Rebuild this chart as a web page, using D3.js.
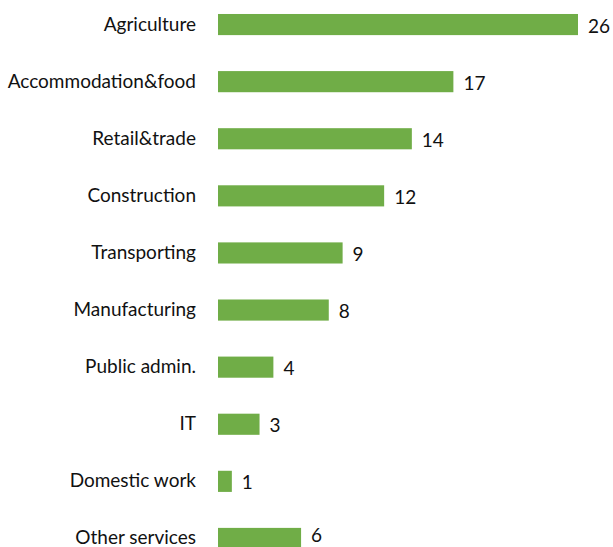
<!DOCTYPE html>
<html>
<head>
<meta charset="utf-8">
<script src="https://cdn.jsdelivr.net/npm/d3@7"></script>
<style>
  html, body { margin: 0; padding: 0; background: #ffffff; }
  svg text { font-family: "Lato", "Open Sans", sans-serif; fill: #111111; }
</style>
</head>
<body>
<svg id="chart" width="613" height="547"></svg>
<script>
// Employment share by sector
const sectors = [
  "Agriculture", "Accommodation&food", "Retail&trade", "Construction",
  "Transporting", "Manufacturing", "Public admin.", "IT",
  "Domestic work", "Other services"
];
const shares = [26, 17, 14, 12, 9, 8, 4, 3, 1, 6];

const svg = d3.select("#chart");

const x = d3.scaleLinear()
  .domain([0, 26])
  .range([218, 578]);

const y = d3.scaleBand()
  .domain(sectors)
  .range([-4, 567])
  .paddingInner(0.63)
  .paddingOuter(0.315);

const rows = sectors.map((s, i) => ({ sector: s, value: shares[i] }));

svg.append("g")
  .selectAll("rect")
  .data(rows)
  .join("rect")
  .attr("x", x(0))
  .attr("y", d => y(d.sector))
  .attr("width", d => x(d.value) - x(0))
  .attr("height", y.bandwidth())
  .attr("fill", "#70ad47");

// Category labels, right-aligned left of the bars
svg.append("g")
  .selectAll("text")
  .data(rows)
  .join("text")
  .attr("x", 196)
  .attr("y", d => y(d.sector) + y.bandwidth() / 2 + 6)
  .attr("text-anchor", "end")
  .attr("font-size", 19)
  .text(d => d.sector);

// Value labels at the bar ends, kept inside the bottom edge
svg.append("g")
  .selectAll("text")
  .data(rows)
  .join("text")
  .attr("x", d => x(d.value) + 10)
  .attr("y", d => Math.min(y(d.sector) + y.bandwidth() / 2 + 8, 542))
  .attr("font-size", 19)
  .text(d => d.value);
</script>
</body>
</html>
